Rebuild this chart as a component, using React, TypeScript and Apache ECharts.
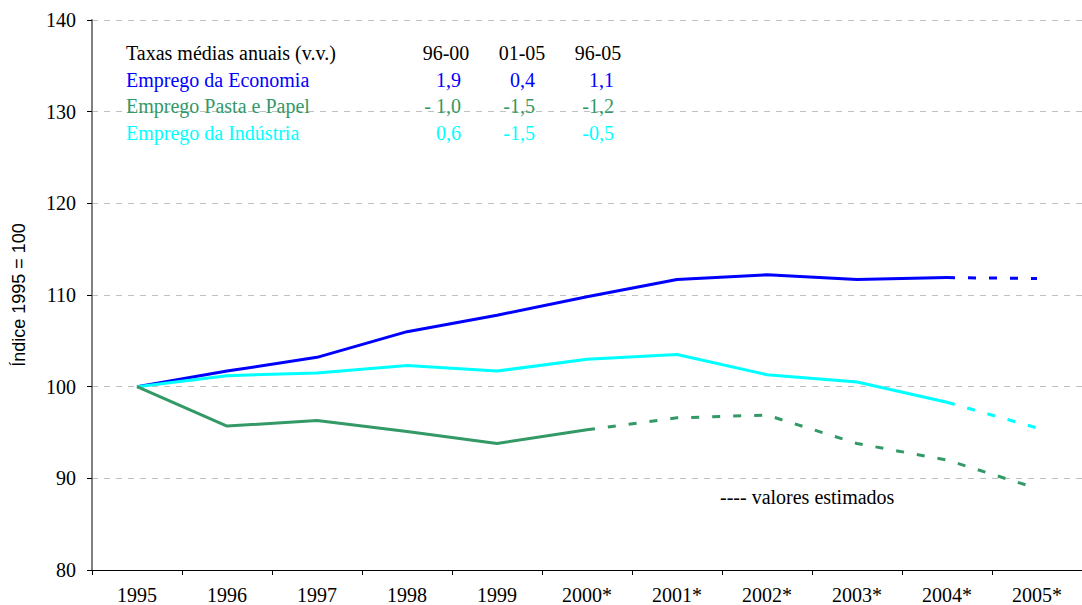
import React, { useEffect, useRef } from "react";
import * as echarts from "echarts";

const years = ["1995", "1996", "1997", "1998", "1999", "2000*", "2001*", "2002*", "2003*", "2004*", "2005*"];
const empregoEconomia = [100, 101.7, 103.2, 106.0, 107.8, 109.8, 111.7, 112.2, 111.7, 111.9, 111.8];
const empregoPastaPapel = [100, 95.7, 96.3, 95.1, 93.8, 95.3, 96.6, 96.9, 93.8, 92.0, 88.9];
const empregoIndustria = [100, 101.2, 101.5, 102.3, 101.7, 103.0, 103.5, 101.3, 100.5, 98.3, 95.5];
// index where the estimated (dashed) part of each series begins
const estimadoDesdeEconomia = 9;
const estimadoDesdePastaPapel = 5;
const estimadoDesdeIndustria = 9;

const tableHeader = ["96-00", "01-05", "96-05"];
const taxasEconomia = ["1,9", "0,4", "1,1"];
const taxasPastaPapel = ["- 1,0", "-1,5", "-1,2"];
const taxasIndustria = ["0,6", "-1,5", "-0,5"];

const BLUE = "#0000ff";
const GREEN = "#339966";
const CYAN = "#00ffff";
const SERIF = "'Liberation Serif', 'DejaVu Serif', serif";
const SANS = "'Liberation Sans', Arial, sans-serif";

function solidPart(vals: number[], from: number) {
  return vals.map((v, i) => (i <= from ? v : null));
}
function dashedPart(vals: number[], from: number) {
  return vals.map((v, i) => (i >= from ? v : null));
}

export default function App() {
  const ref = useRef<HTMLDivElement>(null);
  useEffect(() => {
    if (!ref.current) return;
    const chart = echarts.init(ref.current, undefined, { renderer: "svg" });

    const txt = (text: string, x: number, y: number, fill: string, align: string = "left") => ({
      type: "text",
      x,
      y,
      style: {
        text,
        fill,
        fontFamily: SERIF,
        fontSize: 20,
        textAlign: align,
        textVerticalAlign: "middle",
      },
      z: 10,
    });

    const rowsY = [80, 106, 133];
    const colRight = [461, 535, 614];
    const rows = [
      { label: "Emprego da Economia", vals: taxasEconomia, color: BLUE },
      { label: "Emprego Pasta e Papel", vals: taxasPastaPapel, color: GREEN },
      { label: "Emprego da Indústria", vals: taxasIndustria, color: CYAN },
    ];
    const headerCenters = [446, 522, 598];

    const graphics: any[] = [txt("Taxas médias anuais (v.v.)", 126, 53, "#000")];
    tableHeader.forEach((h, i) => graphics.push(txt(h, headerCenters[i], 53, "#000", "center")));
    rows.forEach((r, ri) => {
      graphics.push(txt(r.label, 126, rowsY[ri], r.color));
      r.vals.forEach((v, ci) => graphics.push(txt(v, colRight[ci], rowsY[ri], r.color, "right")));
    });
    graphics.push(txt("---- valores estimados", 720, 497, "#000"));

    const lineSeries = (name: string, data: (number | null)[], color: string, dashed: boolean) => ({
      name,
      type: "line",
      data,
      symbol: "none",
      connectNulls: false,
      lineStyle: { color, width: 3, type: dashed ? [8, 13] : "solid" },
      z: 3,
    });

    chart.setOption({
      animation: false,
      backgroundColor: "#ffffff",
      textStyle: { fontFamily: SERIF },
      grid: { left: 92, right: -15, top: 20, bottom: 34 },
      xAxis: {
        type: "category",
        data: years,
        boundaryGap: true,
        axisLine: { show: true, lineStyle: { color: "#000", width: 1 } },
        axisTick: { show: true, length: 5, lineStyle: { color: "#000" } },
        axisLabel: { color: "#000", fontFamily: SERIF, fontSize: 20, margin: 15 },
        splitLine: { show: false },
      },
      yAxis: {
        type: "value",
        min: 80,
        max: 140,
        interval: 10,
        name: "Índice 1995 = 100",
        nameLocation: "middle",
        nameRotate: 90,
        nameGap: 64,
        nameTextStyle: { color: "#000", fontFamily: SANS, fontSize: 18 },
        axisLine: { show: true, lineStyle: { color: "#808080", width: 2 } },
        axisTick: { show: true, length: 5, lineStyle: { color: "#000" } },
        axisLabel: { color: "#000", fontFamily: SERIF, fontSize: 20, margin: 16 },
        splitLine: { show: true, lineStyle: { color: "#c0c0c0", type: [6, 6], width: 1 } },
      },
      series: [
        lineSeries("Emprego da Economia", solidPart(empregoEconomia, estimadoDesdeEconomia), BLUE, false),
        lineSeries("Emprego da Economia (estimado)", dashedPart(empregoEconomia, estimadoDesdeEconomia), BLUE, true),
        lineSeries("Emprego da Indústria", solidPart(empregoIndustria, estimadoDesdeIndustria), CYAN, false),
        lineSeries("Emprego da Indústria (estimado)", dashedPart(empregoIndustria, estimadoDesdeIndustria), CYAN, true),
        lineSeries("Emprego Pasta e Papel", solidPart(empregoPastaPapel, estimadoDesdePastaPapel), GREEN, false),
        lineSeries("Emprego Pasta e Papel (estimado)", dashedPart(empregoPastaPapel, estimadoDesdePastaPapel), GREEN, true),
      ],
      graphic: graphics,
    });
    return () => chart.dispose();
  }, []);
  return (
    <div
      ref={ref}
      style={{ position: "fixed", left: 0, top: 0, width: 1082, height: 605, background: "#fff" }}
    />
  );
}
